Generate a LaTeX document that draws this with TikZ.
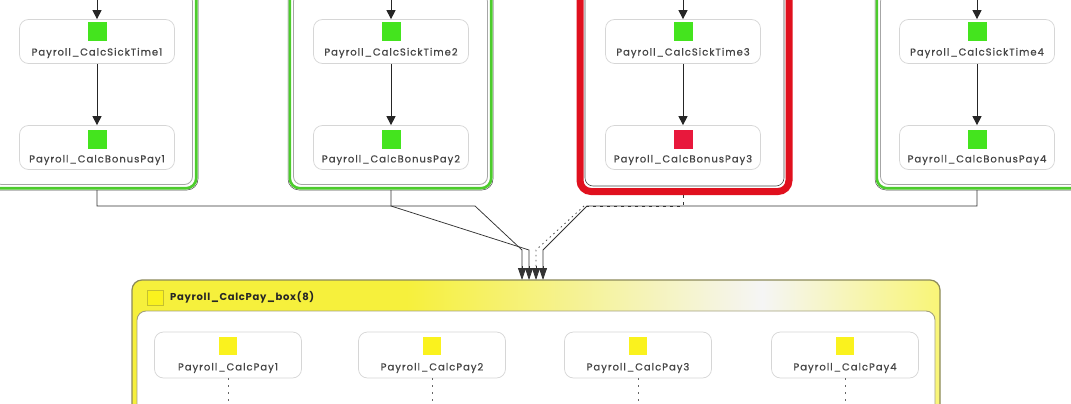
\documentclass[tikz,border=0pt]{standalone}
\usepackage{fontspec}
\newfontfamily\lblfont[LetterSpace=10,FakeBold=0.6]{Poppins}
\newfontfamily\hdrfont[LetterSpace=7]{Poppins}
\usetikzlibrary{arrows.meta}
\definecolor{sqgreen}{HTML}{44E41E}
\definecolor{sqred}{HTML}{E8183C}
\definecolor{sqyellow}{HTML}{FAF21E}
\definecolor{hdryellow}{HTML}{F6F03C}
\definecolor{boxgray}{HTML}{D6D6D6}
\definecolor{txtgray}{HTML}{454545}
\definecolor{contgreen}{HTML}{4CCC2C}
\definecolor{contred}{HTML}{E0101E}
\definecolor{olive}{HTML}{8C8A5A}
\pgfdeclarehorizontalshading{hdrshade}{100bp}{color(0bp)=(hdryellow); color(25bp)=(hdryellow); color(42bp)=(hdryellow); color(64bp)=(white!92!gray); color(75bp)=(hdryellow!70!white); color(100bp)=(hdryellow!70!white)}
\newcommand\greencont[4]{%
  \draw[gray!60!black, line width=0.5pt, rounded corners=11pt] (#1,#2) rectangle (#3,#4);
  \draw[contgreen, line width=2.6pt, rounded corners=10pt] ({#1+1.8},{#2+1.8}) rectangle ({#3-1.8},{#4-1.8});
  \draw[gray!70, line width=0.8pt, rounded corners=8pt] ({#1+5.5},{#2+5.5}) rectangle ({#3-5.5},{#4-5.5});
}
\begin{document}
\begin{tikzpicture}[x=1pt,y=-1pt,
  task/.style={draw=boxgray, line width=0.7pt, rounded corners=9pt, fill=white, minimum width=155pt, minimum height=44pt, inner sep=0pt},
  ctask/.style={task, minimum width=147pt, minimum height=46pt},
  sq/.style={minimum width=19pt, minimum height=19pt, inner sep=0pt},
  lbl/.style={font=\lblfont\fontsize{10}{11}\selectfont, text=txtgray, inner sep=0pt},
  flow/.style={draw=black!85, line width=0.8pt, -{Triangle[width=9pt,length=9pt]}},
  conn/.style={draw=black!80, line width=0.75pt},
  tip/.style={-{Triangle[width=8pt,length=12pt]}},
]
\useasboundingbox (0,0) rectangle (1071,404);
\fill[white] (0,0) rectangle (1071,404);

% ---------- upper containers ----------
\greencont{-12}{-12}{198}{190}
\greencont{288}{-12}{493}{190}
\greencont{875}{-12}{1090}{190}
\draw[contred, line width=7pt, rounded corners=11pt] (580,-12) rectangle (789,191.5);
\draw[gray!60!black, line width=0.6pt, rounded corners=8pt] (585,-12) rectangle (784,186);

\coordinate (c1b) at (97,190);
\coordinate (c2b) at (391,190);
\coordinate (c3b) at (683,195);
\coordinate (c4b) at (977,190);

% ---------- upper tasks ----------
\foreach \i/\x/\c in {1/97/sqgreen, 2/391/sqgreen, 3/683/sqred, 4/977/sqgreen}{
  \node[task] (st\i) at (\x,41.5) {};
  \node[sq, fill=sqgreen] (sts\i) at (\x,31.5) {};
  \node[lbl] (stl\i) at (\x,53) {Payroll\_CalcSickTime\i};
  \node[task] (bp\i) at (\x,147.5) {};
  \node[sq, fill=\c] (bps\i) at (\x,139.5) {};
  \node[lbl] (bpl\i) at (\x,160) {Payroll\_CalcBonusPay\i};
  \coordinate (top\i) at (\x,0);
  \draw[flow] (top\i) -- (st\i.north);
  \draw[flow] (st\i.south) -- (bp\i.north);
}

% ---------- connectors into the lower container ----------
\coordinate (in1) at (522,280);
\coordinate (in2) at (529,280);
\coordinate (in3) at (536,280);
\coordinate (in4) at (543,280);

\draw[conn] (c1b) -- (97,206) -- (475,206) -- (522,250) -- (522,268);
\draw[conn, tip] (522,266) -- (in1);
\draw[conn] (c2b) -- (391,206) -- (529,250) -- (529,268);
\draw[conn, tip] (529,266) -- (in2);
\draw[conn] (c4b) -- (977,206) -- (587,206) -- (543,250) -- (543,268);
\draw[conn, tip] (543,266) -- (in4);
\draw[black!80, line width=0.7pt, dash pattern=on 3pt off 4pt] (c3b) -- (683,206) -- (584,206);
\draw[black!70, line width=0.8pt, dash pattern=on 1.5pt off 3.5pt] (584,206) -- (536,250) -- (536,268);
\draw[conn, tip] (536,266) -- (in3);

% ---------- lower container ----------
\path[shading=hdrshade, rounded corners=10pt] (132,280) rectangle (940,430);
\draw[olive, line width=1.2pt, rounded corners=10pt] (132,280) rectangle (940,430);
\draw[olive!80, line width=0.9pt, fill=white, rounded corners=9pt] (137,311) rectangle (935,430);
\node[minimum width=16pt, minimum height=15pt, inner sep=0pt, fill=sqyellow, draw=hdryellow!80!black, line width=0.3pt] (hdricon) at (155,297.5) {};
\node[font=\hdrfont\bfseries\fontsize{10}{11}\selectfont, text=black!85, anchor=west, inner sep=0pt] (hdrlbl) at (170,297.5) {Payroll\_CalcPay\_box(8)};

\foreach \i/\x in {1/228, 2/432, 3/638, 4/845}{
  \node[ctask] (cp\i) at (\x,355) {};
  \node[sq, minimum width=18pt, minimum height=18pt, fill=sqyellow] (cps\i) at (\x,346) {};
  \node[lbl] (cpl\i) at (\x,368) {Payroll\_CalcPay\i};
  \coordinate (cpo\i) at (\x,404);
  \draw[black!60, line width=0.8pt, dash pattern=on 2pt off 5pt] (cp\i.south) -- (cpo\i);
}
\end{tikzpicture}
\end{document}
